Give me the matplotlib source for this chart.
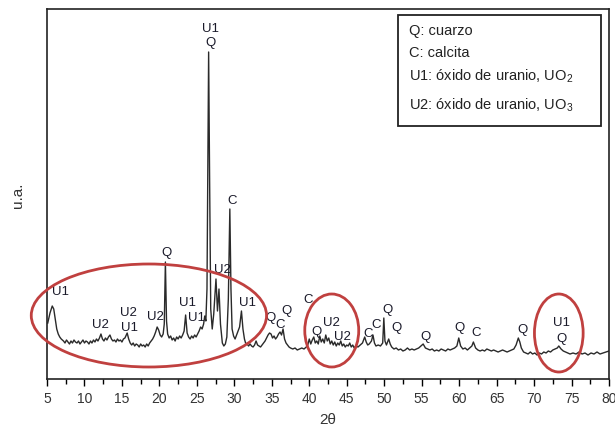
import matplotlib
matplotlib.use("Agg")
import matplotlib.pyplot as plt
from matplotlib.patches import Ellipse, Rectangle

plt.rcParams['font.family'] = ['Liberation Sans', 'DejaVu Sans']
plt.rcParams['mathtext.fontset'] = 'custom'
plt.rcParams['mathtext.rm'] = 'Liberation Sans'
plt.rcParams['mathtext.it'] = 'Liberation Sans'

# ---- diffractogram (2theta, intensity in arbitrary units) ----
two_theta = [
    5.1, 5.4, 5.7, 5.9, 6.1, 6.3, 6.5, 6.7, 6.9,
    7.2, 7.4, 7.6, 7.8, 8.0, 8.2, 8.4, 8.6, 8.8, 9.0, 9.2, 9.4, 9.6, 9.8,
    10.0, 10.2, 10.4, 10.6, 10.8, 11.0, 11.2, 11.4, 11.6, 11.8, 12.0, 12.2,
    12.4, 12.6, 12.8, 13.0, 13.2, 13.4, 13.6, 13.8, 14.0, 14.2, 14.4, 14.6,
    14.8, 15.0, 15.2, 15.4, 15.7, 15.9, 16.1, 16.3, 16.5, 16.7, 16.9, 17.1,
    17.3, 17.5, 17.7, 17.9, 18.1, 18.3, 18.5, 18.7, 18.9, 19.1, 19.3, 19.5,
    19.7, 19.9, 20.1, 20.3, 20.5, 20.65, 20.8, 20.95, 21.1, 21.3, 21.5, 21.7,
    21.9, 22.1, 22.3, 22.5, 22.7, 22.9, 23.1, 23.3, 23.5, 23.7, 23.9, 24.1,
    24.3, 24.5, 24.7, 24.9, 25.1, 25.3, 25.5, 25.7, 25.9, 26.05, 26.2, 26.35,
    26.5, 26.57, 26.7, 26.85, 27.05, 27.25, 27.55, 27.75, 27.95, 28.15, 28.4,
    28.6, 28.8, 29.0, 29.2, 29.4, 29.55, 29.7, 29.9, 30.1, 30.3, 30.5, 30.7,
    30.95, 31.15, 31.35, 31.5, 31.7, 31.9, 32.1, 32.3, 32.5, 32.7, 32.9, 33.1,
    33.3, 33.5, 33.7, 33.9, 34.1, 34.3, 34.5, 34.7, 34.9, 35.1, 35.3, 35.5,
    35.7, 35.9, 36.1, 36.3, 36.5, 36.7, 36.9, 37.1, 37.3, 37.5, 37.8, 38.1,
    38.4, 38.7, 39.0, 39.3, 39.6, 39.8, 40.0, 40.2, 40.4, 40.6, 40.8, 41.0,
    41.2, 41.4, 41.6, 41.8, 42.0, 42.2, 42.4, 42.6, 42.8, 43.0, 43.2, 43.4,
    43.6, 43.8, 44.0, 44.2, 44.4, 44.6, 44.8, 45.0, 45.2, 45.4, 45.6, 45.8,
    46.0, 46.2, 46.5, 46.8, 47.1, 47.4, 47.6, 47.8, 48.0, 48.3, 48.5, 48.7,
    48.9, 49.2, 49.5, 49.8, 49.95, 50.1, 50.3, 50.6, 50.8, 51.0, 51.3, 51.6,
    51.9, 52.2, 52.5, 52.8, 53.1, 53.4, 53.7, 54.0, 54.3, 54.6, 54.9, 55.2,
    55.5, 55.8, 56.1, 56.4, 56.7, 57.0, 57.3, 57.6, 57.9, 58.2, 58.5, 58.8,
    59.1, 59.4, 59.7, 59.95, 60.2, 60.5, 60.8, 61.1, 61.4, 61.7, 61.9, 62.2,
    62.5, 62.8, 63.1, 63.4, 63.7, 64.0, 64.3, 64.6, 64.9, 65.2, 65.5, 65.8,
    66.1, 66.4, 66.7, 67.0, 67.3, 67.6, 67.9, 68.1, 68.3, 68.6, 68.9, 69.2,
    69.5, 69.8, 70.1, 70.4, 70.7, 71.0, 71.3, 71.6, 71.9, 72.2, 72.5, 72.8,
    73.1, 73.3, 73.6, 73.9, 74.2, 74.5, 74.8, 75.2, 75.6, 76.0, 76.4, 76.8,
    77.2, 77.6, 78.0, 78.4, 78.8, 79.2, 79.6, 80.0,
]
intensity = [
    56, 66, 73, 70, 60, 50, 45, 42, 40,
    38, 36, 39, 37, 35, 38, 36, 39, 37, 36, 38, 35, 37, 39,
    36, 38, 37, 35, 38, 36, 39, 37, 40, 38, 41, 45,
    40, 38, 41, 39, 42, 44, 40, 38, 39, 37, 40, 38,
    39, 37, 40, 41, 46, 40, 36, 34, 36, 33, 35, 34,
    32, 35, 33, 34, 32, 35, 33, 36, 38, 40, 43, 47,
    52, 49, 44, 42, 45, 55, 117, 58, 45, 41, 43, 39,
    41, 38, 42, 40, 43, 41, 44, 48, 64, 46, 42, 40,
    43, 41, 44, 42, 45, 48, 52, 50, 55, 63, 58, 90,
    250, 327, 200, 70, 50, 65, 100, 68, 90, 55, 36,
    33, 35, 42, 80, 170, 90, 50, 43, 40, 44, 48, 52,
    68, 50, 40, 36, 35, 33, 35, 33, 32, 34, 38, 34,
    33, 32, 34, 36, 38, 41, 44, 46, 45, 41, 43, 40,
    42, 45, 47, 44, 50, 40, 36, 34, 32, 31, 30, 31,
    29, 30, 31, 30, 32, 34, 40, 35, 39, 42, 36, 38,
    35, 43, 37, 40, 36, 44, 38, 41, 35, 38, 34, 37,
    33, 36, 34, 38, 33, 35, 32, 34, 33, 36, 32, 34,
    31, 33, 32, 34, 36, 42, 37, 34, 35, 38, 44, 36,
    33, 34, 33, 36, 61, 38, 34, 40, 35, 32, 30, 31,
    29, 30, 28, 29, 31, 29, 30, 29, 30, 31, 33, 35,
    31, 30, 29, 30, 28, 29, 28, 30, 29, 28, 30, 29,
    30, 31, 33, 41, 33, 30, 31, 29, 31, 33, 37, 31,
    29, 28, 29, 28, 30, 29, 28, 29, 28, 27, 28, 29,
    28, 27, 28, 29, 30, 34, 41, 37, 31, 27, 26, 25,
    27, 25, 26, 24, 26, 25, 27, 26, 28, 27, 29, 30,
    31, 33, 30, 28, 27, 26, 25, 26, 25, 27, 25, 26,
    24, 26, 25, 27, 25, 26, 27, 28,
]

# ---- peak labels ----
label_text = ['U1', 'U2', 'U2', 'U1', 'U2', 'Q', 'U1', 'U1', 'U1', 'Q', 'U2',
              'C', 'U1', 'Q', 'C', 'Q', 'C', 'Q', 'U2', 'U2', 'C', 'C', 'Q',
              'Q', 'Q', 'Q', 'C', 'Q', 'U1', 'Q']
label_x = [6.8, 12.1, 15.9, 16.0, 19.5, 21.0, 23.8, 24.9, 26.8, 26.8, 28.4,
           29.7, 31.7, 34.8, 36.1, 36.9, 39.8, 41.0, 42.9, 44.4, 47.9, 48.9, 50.4,
           51.7, 55.5, 60.1, 62.3, 68.5, 73.7, 73.7]
label_y = [88, 55, 67, 52, 63, 127, 77, 62, 351, 337, 110,
           179, 77, 62, 55, 69, 80, 48, 57, 43, 46, 55, 70,
           52, 43, 52, 47, 50, 57, 41]

# ---- highlighted regions (centre 2theta, centre intensity, width, height) ----
ell_x = [18.6, 43.0, 73.3]
ell_y = [63.5, 48.5, 46]
ell_w = [31.4, 7.2, 6.5]
ell_h = [103, 73, 78]

legend_lines = ['Q: cuarzo', 'C: calcita', r'U1: óxido de uranio, UO$_2$',
                r'U2: óxido de uranio, UO$_3$']

fig = plt.figure(figsize=(6.15, 4.35), dpi=100)
ax = fig.add_axes([47/615, 55/435, 562/615, 370/435])

ax.plot(two_theta, intensity, color='#2a2a2a', lw=1.0)

for t, x, y in zip(label_text, label_x, label_y):
    ax.text(x, y, t, ha='center', va='center', fontsize=9.5, color='#1a1a2a')

for cx, cy, w, h in zip(ell_x, ell_y, ell_w, ell_h):
    ax.add_patch(Ellipse((cx, cy), w, h, fill=False, edgecolor='#c0403f',
                         lw=2, clip_on=False, zorder=3))

ax.set_xlim(5, 80)
ax.set_ylim(0, 370)
ax.set_xticks(range(5, 81, 5))
ax.set_xticks([x + 2.5 for x in range(5, 80, 5)], minor=True)
ax.set_yticks([])
ax.tick_params(axis='x', which='major', direction='out', length=5, width=1,
               labelsize=10, labelcolor='#333333', pad=4)
ax.tick_params(axis='x', which='minor', direction='out', length=3.5, width=1)
for s in ax.spines.values():
    s.set_linewidth(1.2)
    s.set_color('#222222')

ax.set_xlabel('2θ', fontsize=11, color='#333333', labelpad=5)
ax.set_ylabel('u.a.', fontsize=11, color='#333333', labelpad=16)

# legend box
ax.add_patch(Rectangle((0.625, 0.684), 0.361, 0.300, transform=ax.transAxes,
                       fill=False, edgecolor='#222222', lw=1.3, zorder=4))
legend_y = [0.942, 0.885, 0.820, 0.742]
for txt, yy in zip(legend_lines, legend_y):
    ax.text(0.644, yy, txt, transform=ax.transAxes, fontsize=10.5,
            va='center', ha='left', color='#222222')

fig.savefig('out.png', dpi=100)
